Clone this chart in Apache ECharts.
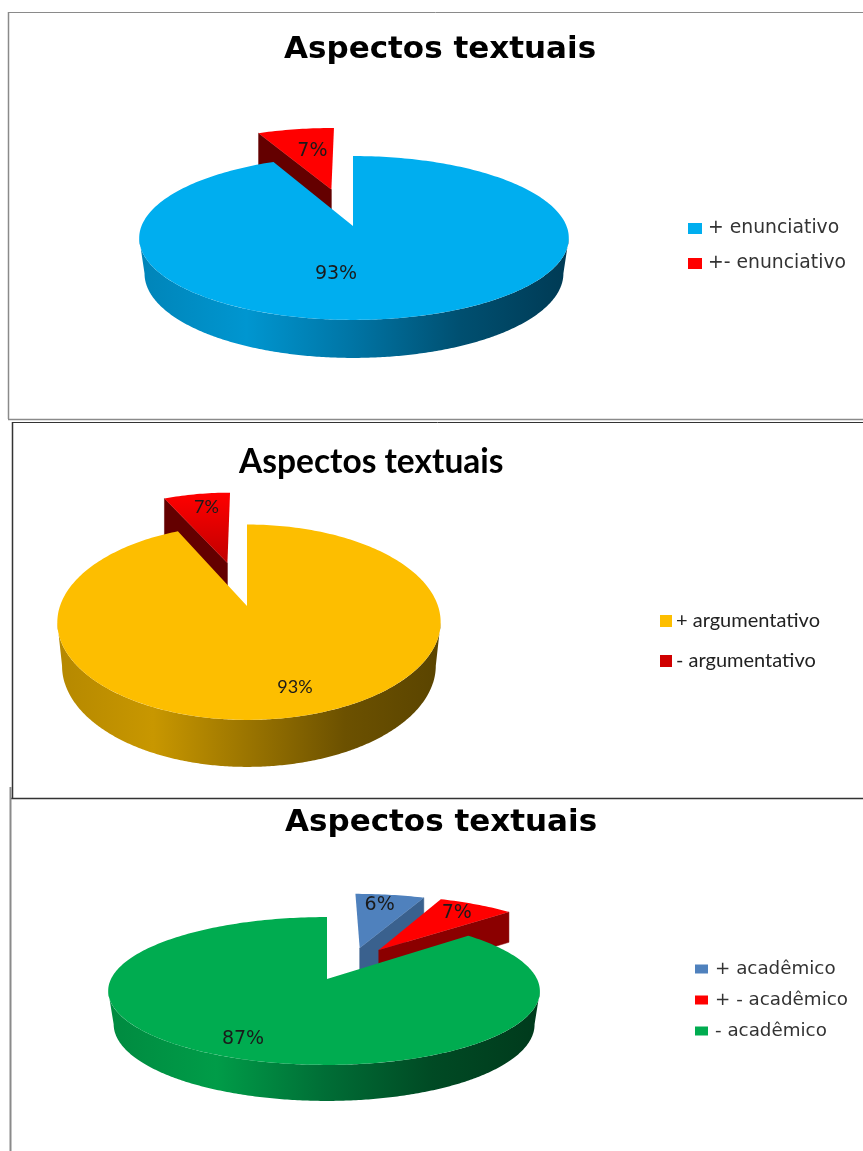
<!DOCTYPE html>
<html><head><meta charset="utf-8"><style>html,body{margin:0;background:#fff}#c{width:863px;height:1151px}</style>
<script src="https://cdn.jsdelivr.net/npm/echarts@6/dist/echarts.min.js"></script></head>
<body><div id="c"></div><script>
const chartTitle = "Aspectos textuais";
const categoriesA = ["+ enunciativo", "+- enunciativo"];
const valuesA = [93, 7];
const categoriesB = ["+ argumentativo", "- argumentativo"];
const valuesB = [93, 7];
const categoriesC = ["+ acadêmico", "+ - acadêmico", "- acadêmico"];
const valuesC = [6.4, 7.0, 86.6];

function grad(stops){return {type:'linear',x:0,y:0,x2:1,y2:0,colorStops:stops.map((c,i)=>({offset:i/(stops.length-1),color:c}))};}
function vgrad(a,b){return {type:'linear',x:0,y:0,x2:0,y2:1,colorStops:[{offset:0,color:a},{offset:1,color:b}]};}

const pies = [
 {names:categoriesA, values:valuesA, ax:353, ay:226, Rx:212.5, Ry:80.2, k:0.146, depth:38, shift:1,
  order:[1,0], labelFont:'DejaVu Sans', labelSize:19,
  slices:[
   {top:'#00aeef', wall:grad(['#0084b8','#0096d0','#0074a4','#004f70','#003a54']), cut:'#004a66', explode:[0,0], label:[-17,48]},
   {top:'#ff0000', wall:'#640000', cut:'#640000', explode:[-0.109,0.488], label:[-19,-38]}
  ]},
 {names:categoriesB, values:valuesB, ax:247, ay:606, Rx:189, Ry:95, k:0.166, depth:47, shift:2,
  order:[1,0], labelFont:'Lato', labelSize:18,
  slices:[
   {top:'#fdbe00', wall:grad(['#b58800','#c89700','#9a7400','#6c5100','#5a4400']), cut:'#6c5100', explode:[0,0], label:[48,81]},
   {top:vgrad('#ff0000','#c00000'), wall:'#640000', cut:'#640000', explode:[-0.112,0.488], label:[-21,-56]}
  ]},
 {names:categoriesC, values:valuesC, ax:327, ay:979, Rx:213, Ry:72, k:0.162, depth:36, shift:-3,
  order:[0,1,2], labelFont:'DejaVu Sans', labelSize:19,
  slices:[
   {top:'#4f81bd', wall:'#3a618e', cut:'#3a618e', explode:[0.165,0.463], label:[20,-43]},
   {top:'#ff0000', wall:'#8b0000', cut:'#8b0000', explode:[0.26,0.431], label:[78,-37]},
   {top:'#00ac50', wall:grad(['#008a40','#009c48','#006e36','#004a24','#003a1c']), cut:'#004a24', explode:[0,0], label:[-84,60]}
  ]}
];
const bottomScale = 0.975;

function project(p, s, a, r){
  const X=r*Math.sin(a)+s.explode[0], Y=r*Math.cos(a)+s.explode[1], w=1+p.k*Y;
  return {x:p.ax+p.Rx*X/w+(isMain(s)?p.shift*r*Math.abs(Math.sin(a)):0), y:p.ay-p.Ry*Y/w, w};
}
function isMain(s){return s.explode[0]===0&&s.explode[1]===0;}
function drop(p, s, q){
  const scale=isMain(s)?bottomScale:1;
  return [p.ax+(q.x-p.ax)*scale, q.y+p.depth*Math.sqrt((1-p.k)/q.w)];
}
function render(p, idx){
  const s=p.slices[idx], total=p.values.reduce((m,v)=>m+v,0);
  let start=0; for(let i=0;i<idx;i++) start+=p.values[i];
  const a0=start/total*2*Math.PI, a1=(start+p.values[idx])/total*2*Math.PI;
  const n=Math.max(4,Math.ceil((a1-a0)/0.02));
  const rim=[]; for(let i=0;i<=n;i++) rim.push(project(p,s,a0+(a1-a0)*i/n,1));
  const apex=project(p,s,0,0);
  const children=[];
  const edge=Math.asin(p.k), f0=Math.max(a0,Math.PI/2+edge), f1=Math.min(a1,1.5*Math.PI-edge);
  if(f1>f0){
    const up=[],dn=[];
    for(let i=0;i<=n;i++){const q=project(p,s,f0+(f1-f0)*i/n,1);up.push([q.x,q.y]);dn.unshift(drop(p,s,q));}
    children.push({type:'polygon',shape:{points:up.concat(dn)},style:{fill:s.wall}});
  }
  const faces=[];
  if(Math.sin(a0)<-1e-6) faces.push(rim[0]);
  if(Math.sin(a1)>1e-6) faces.push(rim[n]);
  faces.forEach(q=>{
    children.push({type:'polygon',shape:{points:[[apex.x,apex.y],[q.x,q.y],drop(p,s,q),drop(p,s,apex)]},style:{fill:s.cut,stroke:s.cut,lineWidth:0.5}});
  });
  children.push({type:'polygon',shape:{points:[[apex.x,apex.y]].concat(rim.map(q=>[q.x,q.y]))},style:{fill:s.top}});
  children.push({type:'text',style:{text:Math.round(p.values[idx])+'%',x:apex.x+s.label[0],y:apex.y+s.label[1],
    align:'center',verticalAlign:'middle',fill:'#1a1a1a',font:p.labelSize+'px "'+p.labelFont+'"'}});
  return {type:'group',children};
}

const series=[];
pies.forEach(p=>p.order.forEach(i=>{
  series.push({type:'custom',name:p.names[i],coordinateSystem:'none',data:[p.values[i]],z:series.length+2,silent:true,
    renderItem:()=>render(p,i)});
}));

function legendItems(names,colors){return names.map((n,i)=>({name:n,icon:'rect',itemStyle:{color:colors[i]}}));}
const frame=(x1,y1,x2,y2,c,w)=>({type:'line',shape:{x1,y1,x2,y2},style:{stroke:c,lineWidth:w},silent:true});

const chart=echarts.init(document.getElementById('c'));
chart.setOption({
  animation:false,
  title:[
   {text:chartTitle,left:284,top:34,padding:0,textStyle:{fontFamily:'DejaVu Sans',fontWeight:'bold',fontSize:31,color:'#000'}},
   {text:chartTitle,left:239,top:445,padding:0,textStyle:{fontFamily:'Lato',fontWeight:'bold',fontSize:33.5,color:'#000'}},
   {text:chartTitle,left:285,top:807,padding:0,textStyle:{fontFamily:'DejaVu Sans',fontWeight:'bold',fontSize:31,color:'#000'}}
  ],
  legend:[
   {orient:'vertical',left:688,top:219,padding:0,itemWidth:14,itemHeight:11,itemGap:16,selectedMode:false,
    data:legendItems(categoriesA,['#00aeef','#ff0000']),textStyle:{fontFamily:'DejaVu Sans',fontSize:18.8,color:'#333',padding:[0,0,0,1]}},
   {orient:'vertical',left:660,top:611,padding:0,itemWidth:12,itemHeight:12,itemGap:20,selectedMode:false,
    data:legendItems(categoriesB,['#fdbe00','#d00000']),textStyle:{fontFamily:'Lato',fontSize:20,color:'#222',padding:[0,0,0,-1]}},
   {orient:'vertical',left:695,top:960,padding:0,itemWidth:13,itemHeight:9,itemGap:13,selectedMode:false,
    data:legendItems(categoriesC,['#4f81bd','#ff0000','#00ac50']),textStyle:{fontFamily:'DejaVu Sans',fontSize:18.3,color:'#333',padding:[0,0,0,2]}}
  ],
  graphic:[
   frame(8.5,12,8.5,419,'#8a8a8a',1.5),frame(8,12.5,863,12.5,'#8a8a8a',1),frame(8,419.5,863,419.5,'#8a8a8a',1.5),
   frame(12.5,422,12.5,798,'#333',1.5),frame(12,422.5,863,422.5,'#333',1),frame(10,798.5,863,798.5,'#333',1.5),
   frame(10.5,787,10.5,1151,'#8a8a8a',2)
  ],
  series
});
</script></body></html>
